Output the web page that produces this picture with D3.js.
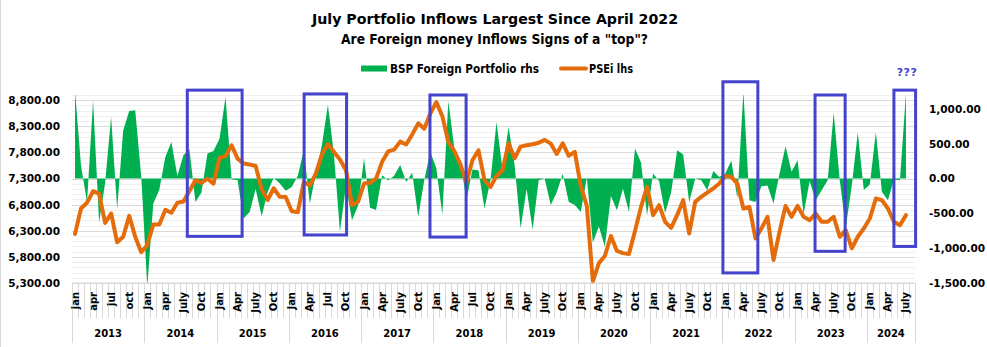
<!DOCTYPE html>
<html>
<head>
<meta charset="utf-8">
<script src="https://cdn.jsdelivr.net/npm/d3@7"></script>
<style>
  body { margin: 0; background: #fff; }
  svg { display: block; font-family: "DejaVu Sans", sans-serif; font-weight: bold; }
</style>
</head>
<body>
<svg id="chart" width="987" height="347"></svg>
<script>
// category axis: years and the month slots in each (2024 runs to an empty aug slot)
const years = [2013, 2014, 2015, 2016, 2017, 2018, 2019, 2020, 2021, 2022, 2023, 2024];
const monthsPerYear = [12, 12, 12, 12, 12, 12, 12, 12, 12, 12, 12, 8];

// quarter labels under each year
const monthLabels = [
    ["jan", "apr", "jul", "oct"],
    ["Jan", "apr", "July", "Oct"],
    ["Jan", "Apr", "July", "Oct"],
    ["Jan", "Apr", "Jul", "Oct"],
    ["Jan", "Apr", "July", "Oct"],
    ["Jan", "Apr", "Jul", "Oct"],
    ["Jan", "Apr", "July", "Oct"],
    ["Jan", "Apr", "July", "Oct"],
    ["Jan", "Apr", "July", "Oct"],
    ["Jan", "Apr", "July", "Oct"],
    ["Jan", "Apr", "July", "Oct"],
    ["Jan", "Apr", "July"]
];

// BSP foreign portfolio net flows (usd mn) - rhs, jan 2013 .. jul 2024
const portfolioFlows = [
    1260, 180, -335, 1120, -630, -60, 885, -440, 690, 970, 980, 30,
    -1560, -360, -160, 310, 525, 40, 335, 420, -335, -200, 360, 395,
    570, 1170, -10, -25, -575, -480, -150, -540, -190, 12, -70, -175,
    -120, 40, 405, -360, 70, 480, 1060, 350, -765, -100, -600, -390,
    287, -420, -450, 48, -24, 40, 195, -48, 85, -550, -20, 380,
    150, -515, 1110, 430, 260, -310, 130, 120, -430, -25, 810, 130,
    740, 200, -715, -150, -730, -25, 0, -380, -200, 70, -335, -380,
    -480, 20, -920, -690, -980, -250, -454, -145, -480, 430, 230, -526,
    72, -36, -500, -200, 406, 345, -335, 0, -24, -167, 110, 24,
    72, 260, -287, 1250, -310, -335, -110, -100, -358, 70, 465, 96,
    263, -510, -40, -310, -167, -24, 945, -24, -705, -100, 660, -165,
    -85, 670, -190, -310, -15, -24, 1230
];

// PSEi month end close - lhs
const psei = [
    6240, 6726, 6840, 7058, 7013, 6450, 6631, 6080, 6185, 6585, 6185, 5890,
    6025, 6420, 6420, 6700, 6646, 6838, 6860, 7060, 7268, 7215, 7297, 7204,
    7695, 7730, 7937, 7682, 7587, 7568, 7540, 7095, 6890, 7115, 6950, 6945,
    6675, 6657, 7236, 7163, 7396, 7762, 7960, 7810, 7666, 7460, 6790, 6854,
    7204, 7220, 7300, 7620, 7820, 7854, 8007, 7953, 8144, 8357, 8256, 8543,
    8765, 8495, 8000, 7826, 7571, 7220, 7650, 7842, 7268, 7140, 7348, 7460,
    7978, 7688, 7912, 7937, 7956, 7985, 8040, 7969, 7770, 7975, 7736, 7810,
    7156, 6775, 5330, 5680, 5818, 6200, 5914, 5872, 5856, 6296, 6758, 7140,
    6600, 6790, 6472, 6357, 6599, 6886, 6248, 6854, 6950, 7032, 7109, 7204,
    7351, 7332, 7204, 6726, 6758, 6153, 6344, 6567, 5739, 6280, 6777, 6567,
    6777, 6567, 6503, 6631, 6472, 6472, 6567, 6185, 6312, 5962, 6185, 6344,
    6535, 6918, 6886, 6726, 6472, 6408, 6599
];

// axis ticks
const leftTicks = [5300, 5800, 6300, 6800, 7300, 7800, 8300, 8800];
const rightTicks = [-1500, -1000, -500, 0, 500, 1000];

// highlighted periods: start/end in month slots, top/bottom on the rhs scale
const boxStart = [19.15, 38.55, 59.45, 108.1, 123.4, 136.5];
const boxEnd = [28.25, 45.6, 65.45, 113.9, 128.4, 140.1];
const boxTop = [1270, 1215, 1200, 1390, 1200, 1270];
const boxBottom = [-830, -810, -840, -1355, -1045, -975];

// margins
const margin = {top: 95, right: 72, bottom: 64, left: 72};

const svgContainer = d3.select("#chart");
const width = +svgContainer.attr("width") - margin.left - margin.right;
const height = +svgContainer.attr("height") - margin.top - margin.bottom;

const svg = svgContainer.append("g")
    .attr("transform", `translate(${margin.left},${margin.top})`);

// number format with a plain hyphen for negatives
const fmt = d3.formatLocale({decimal: ".", thousands: ",", grouping: [3], currency: ["", ""], minus: "-"}).format(",.2f");

// scales
const nSlots = d3.sum(monthsPerYear);
const xScale = d3.scaleBand().domain(d3.range(nSlots)).range([0, width]);
const xSlot = d3.scaleLinear().domain([0, nSlots]).range([0, width]);
const cx = i => xScale(i) + xScale.bandwidth() / 2;
const yLeft = d3.scaleLinear().domain([5300, 8900]).range([height, 0]);
const yRight = d3.scaleLinear().domain([-1500, 1200]).range([height, 0]);

// left border of the chart area
svgContainer.append("line")
    .attr("x1", 0.5).attr("x2", 0.5).attr("y1", 0).attr("y2", 347)
    .attr("stroke", "#d9d9d9");

// gridlines: minor every 100, major every 500 (lhs)
svg.append("g").selectAll("line")
    .data(d3.range(5300, 8901, 100).filter(v => (v - 5300) % 500 !== 0))
    .join("line")
    .attr("x1", 0).attr("x2", width)
    .attr("y1", d => Math.round(yLeft(d)) + 0.5).attr("y2", d => Math.round(yLeft(d)) + 0.5)
    .attr("stroke", "#efefef");

svg.append("g").selectAll("line")
    .data(leftTicks)
    .join("line")
    .attr("x1", 0).attr("x2", width)
    .attr("y1", d => Math.round(yLeft(d)) + 0.5).attr("y2", d => Math.round(yLeft(d)) + 0.5)
    .attr("stroke", "#d9d9d9");

// clip for values that run past the axis bounds
svg.append("clipPath").attr("id", "plot-clip")
    .append("rect").attr("width", width).attr("height", height);

// portfolio flows as area around zero
const area = d3.area()
    .x((d, i) => cx(i))
    .y0(yRight(0))
    .y1(d => yRight(d));

svg.append("path")
    .datum(portfolioFlows)
    .attr("clip-path", "url(#plot-clip)")
    .attr("fill", "#00b050")
    .attr("d", area);

// PSEi line
const line = d3.line()
    .x((d, i) => cx(i))
    .y(d => yLeft(d));

svg.append("path")
    .datum(psei)
    .attr("fill", "none")
    .attr("stroke", "#e46c0a")
    .attr("stroke-width", 4)
    .attr("stroke-linejoin", "round")
    .attr("stroke-linecap", "round")
    .attr("d", line);

// left axis
const leftAxis = svg.append("g")
    .call(d3.axisLeft(yLeft).tickValues(leftTicks).tickFormat(fmt).tickSize(0).tickPadding(12));
leftAxis.select(".domain").remove();

// right axis
const rightAxis = svg.append("g")
    .attr("transform", `translate(${width},0)`)
    .call(d3.axisRight(yRight).tickValues(rightTicks).tickFormat(fmt).tickSize(0).tickPadding(14));
rightAxis.select(".domain").remove();

svg.selectAll(".tick text")
    .attr("font-family", "DejaVu Sans, sans-serif")
    .attr("font-weight", "bold")
    .attr("font-size", "10.5px")
    .attr("fill", "#000");

// category axis: base line, slot ticks, year separators
const catAxis = svg.append("g").attr("transform", `translate(0,${height})`);

catAxis.append("line")
    .attr("x1", 0).attr("x2", width)
    .attr("stroke", "#d9d9d9");

catAxis.selectAll(".slot-tick")
    .data(d3.range(nSlots + 1))
    .join("line")
    .attr("class", "slot-tick")
    .attr("x1", d => Math.round(xSlot(d)) + 0.5).attr("x2", d => Math.round(xSlot(d)) + 0.5)
    .attr("y1", 0).attr("y2", 35)
    .attr("stroke", "#d9d9d9");

const yearStarts = years.map((y, k) => d3.sum(monthsPerYear.slice(0, k)));

catAxis.selectAll(".year-tick")
    .data(yearStarts.concat([nSlots]))
    .join("line")
    .attr("class", "year-tick")
    .attr("x1", d => Math.round(xSlot(d)) + 0.5).attr("x2", d => Math.round(xSlot(d)) + 0.5)
    .attr("y1", 35).attr("y2", 60)
    .attr("stroke", "#d9d9d9");

// month labels, every third slot
const monthTicks = [];
years.forEach((y, k) => {
    monthLabels[k].forEach((m, j) => monthTicks.push({slot: yearStarts[k] + j * 3, label: m}));
});

catAxis.selectAll(".month-label")
    .data(monthTicks)
    .join("text")
    .attr("class", "month-label")
    .attr("transform", d => `translate(${cx(d.slot) + 3.5},9) rotate(-90)`)
    .attr("text-anchor", "end")
    .attr("font-size", "10px")
    .text(d => d.label);

catAxis.selectAll(".year-label")
    .data(years)
    .join("text")
    .attr("class", "year-label")
    .attr("x", (d, k) => xSlot(yearStarts[k] + monthsPerYear[k] / 2))
    .attr("y", 54)
    .attr("text-anchor", "middle")
    .attr("font-size", "10px")
    .text(d => d);

// highlight boxes
svg.append("g").selectAll("rect")
    .data(boxStart.map((s, k) => ({s, e: boxEnd[k], t: boxTop[k], b: boxBottom[k]})))
    .join("rect")
    .attr("x", d => xSlot(d.s))
    .attr("y", d => yRight(d.t))
    .attr("width", d => xSlot(d.e) - xSlot(d.s))
    .attr("height", d => yRight(d.b) - yRight(d.t))
    .attr("fill", "none")
    .attr("stroke", "#4343cc")
    .attr("stroke-width", 3);

svg.append("text")
    .attr("x", cx(psei.length - 1) + 1)
    .attr("y", yRight(boxTop[5]) - 14)
    .attr("text-anchor", "middle")
    .attr("font-size", "11px")
    .attr("letter-spacing", "0.5px")
    .attr("fill", "#4343cc")
    .text("???");

// titles
svgContainer.append("text")
    .attr("x", 495).attr("y", 24)
    .attr("text-anchor", "middle")
    .attr("font-size", "14.5px")
    .attr("textLength", 366).attr("lengthAdjust", "spacingAndGlyphs")
    .text("July Portfolio Inflows Largest Since April 2022");

svgContainer.append("text")
    .attr("x", 494.5).attr("y", 43.5)
    .attr("text-anchor", "middle")
    .attr("font-size", "13.5px")
    .attr("textLength", 307).attr("lengthAdjust", "spacingAndGlyphs")
    .text('Are Foreign money Inflows Signs of a "top"?');

// legend
const legend = svgContainer.append("g");
legend.append("rect")
    .attr("x", 361).attr("y", 65.5).attr("width", 26).attr("height", 6)
    .attr("fill", "#00b050");
legend.append("text")
    .attr("x", 390).attr("y", 72.5)
    .attr("font-size", "12px")
    .attr("textLength", 149).attr("lengthAdjust", "spacingAndGlyphs")
    .text("BSP Foreign Portfolio rhs");
legend.append("line")
    .attr("x1", 561).attr("x2", 586).attr("y1", 68.5).attr("y2", 68.5)
    .attr("stroke", "#e46c0a").attr("stroke-width", 4).attr("stroke-linecap", "round");
legend.append("text")
    .attr("x", 589).attr("y", 72.5)
    .attr("font-size", "12px")
    .attr("textLength", 44).attr("lengthAdjust", "spacingAndGlyphs")
    .text("PSEi lhs");
</script>
</body>
</html>
